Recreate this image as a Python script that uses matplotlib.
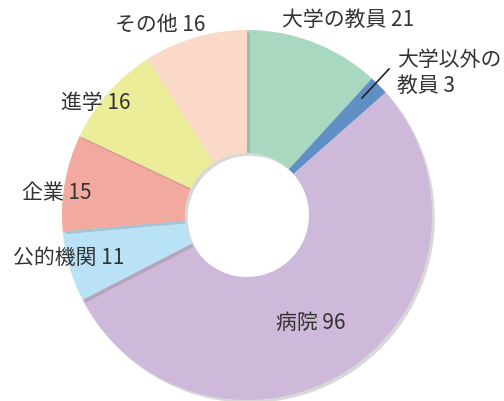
import matplotlib.pyplot as plt
import matplotlib.patheffects as pe

plt.rcParams['font.family'] = ['Noto Sans CJK JP', 'DejaVu Sans']

labels = ['大学の教員', '大学以外の\n教員', '病院', '公的機関', '企業', '進学', 'その他']
values = [21, 3, 96, 11, 15, 16, 16]
colors = ['#a8d8c0', '#5f8fc4', '#cfb9da', '#bae2f6', '#f2a9a0', '#ebed98', '#fad9c9']

# label positions in pixels (x, y from top) and alignment
label_pos = [(348, 20, 'center'), (397, 73, 'left'), (311, 323, 'center'),
             (69, 258, 'center'), (57, 193, 'center'), (96, 103, 'center'),
             (160, 25, 'center')]

W, H = 504, 401
cx, cy, R = 247, 215, 185

fig = plt.figure(figsize=(W / 100, H / 100), dpi=100)
ax = fig.add_axes([0, 0, 1, 1])

wedges, _ = ax.pie(values, colors=colors, startangle=90, counterclock=False,
                   radius=1, wedgeprops=dict(width=0.665, linewidth=0))
for w in wedges:
    w.set_path_effects([pe.SimplePatchShadow(offset=(2, -2), shadow_rgbFace='#666666', alpha=0.25),
                        pe.Normal()])


def to_data(px, py):
    return (px - cx) / R, (cy - py) / R


for lab, v, (px, py, ha) in zip(labels, values, label_pos):
    x, y = to_data(px, py)
    ax.text(x, y, f'{lab} {v}', ha=ha, va='center', fontsize=15,
            color='#333333', linespacing=1.2)

# leader line for the small slice
x0, y0 = to_data(362, 98)
x1, y1 = to_data(389, 69)
ax.plot([x0, x1], [y0, y1], color='#222222', lw=1.2)

ax.set_xlim(-cx / R, (W - cx) / R)
ax.set_ylim(-(H - cy) / R, cy / R)
ax.set_aspect('equal')
ax.axis('off')

fig.savefig('out.png', dpi=100)
